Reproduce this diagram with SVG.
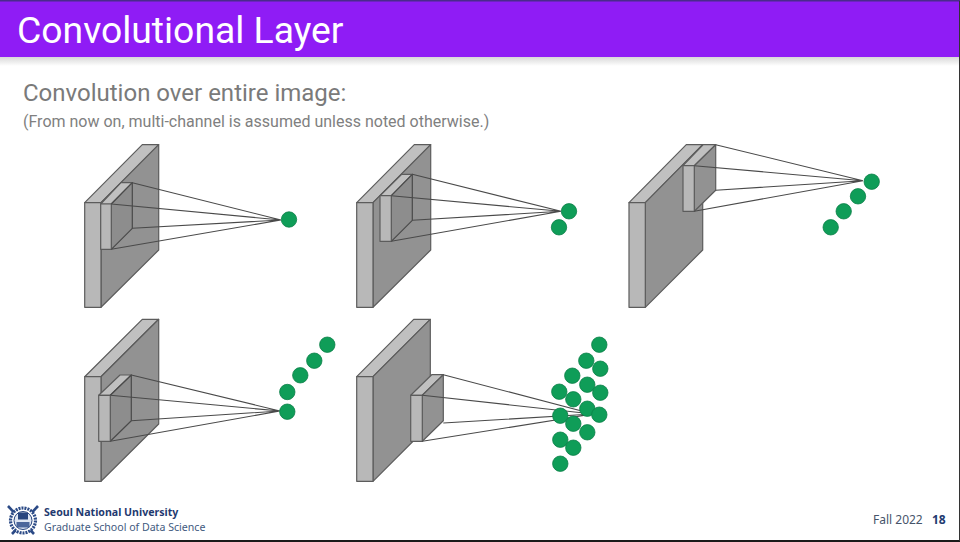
<svg xmlns="http://www.w3.org/2000/svg" width="960" height="542" viewBox="0 0 960 542">
<defs>
<linearGradient id="sh" x1="0" y1="0" x2="0" y2="1"><stop offset="0" stop-color="#d8d8d8"/><stop offset="1" stop-color="#ffffff"/></linearGradient>
<style>
.f{fill:#b8b8b8;stroke:#5c5c5c;stroke-width:1.2;stroke-linejoin:round}
.t{fill:#c0c0c0;stroke:#5c5c5c;stroke-width:1.2;stroke-linejoin:round}
.s{fill:#929292;stroke:#5c5c5c;stroke-width:1.2;stroke-linejoin:round}
.sm{fill:#8c8c8c;fill-opacity:.7;stroke:#4a4a4a;stroke-width:1.2;stroke-linejoin:round}
.d{fill:#0f9d58;stroke:#0b7f47;stroke-width:.8}
.l{stroke:#4a4a4a;stroke-width:1.1;fill:none}
.r{font-family:Roboto,"Liberation Sans",sans-serif}
.n{font-family:"Noto Sans","Liberation Sans",sans-serif}
</style>
</defs>
<rect width="960" height="542" fill="#ffffff"/>
<g id="header">
<rect x="0" y="57" width="960" height="9" fill="url(#sh)"/>
<rect x="0" y="0" width="960" height="57" fill="#8f1cf5"/>
<rect x="0" y="0" width="960" height="1.5" fill="#4a2a8c"/>
<text x="17" y="43" class="r" font-size="37.3" fill="#ffffff">Convolutional Layer</text>
</g>
<g id="subtitle">
<text x="23" y="101" class="r" font-size="24" fill="#7a7a7a">Convolution over entire image:</text>
<text x="23" y="127" class="r" font-size="16" fill="#808080">(From now on, multi-channel is assumed unless noted otherwise.)</text>
</g>
<g id="block1">
<polygon class="t" points="84.7,202.7 142.3,144.7 158.7,144.7 101,202.7"/>
<polygon class="s" points="101,202.7 158.7,144.7 158.7,250 101,307.3"/>
<rect class="f" x="84.7" y="202.7" width="16.3" height="104.6"/>
<polygon class="t" points="100.7,204 121,182.7 132.3,182.7 111.3,204"/>
<polygon class="sm" points="111.3,204 132.3,182.7 132.3,228.3 111.3,249.3"/>
<rect class="f" x="100.7" y="204" width="10.6" height="45.3"/>
</g>
<g id="block2">
<polygon class="t" points="356.7,202.7 414.3,144.7 430.7,144.7 373,202.7"/>
<polygon class="s" points="373,202.7 430.7,144.7 430.7,250 373,307.3"/>
<rect class="f" x="356.7" y="202.7" width="16.3" height="104.6"/>
<polygon class="t" points="380,195.7 401.7,174.3 412.3,174.3 391.3,195.7"/>
<polygon class="sm" points="391.3,195.7 412.3,174.3 412.3,220.3 391.3,241.3"/>
<rect class="f" x="380" y="195.7" width="11.3" height="45.6"/>
</g>
<g id="block3">
<polygon class="t" points="629,202.7 686.3,144.7 702.7,144.7 645.3,202.7"/>
<polygon class="s" points="645.3,202.7 702.7,144.7 702.7,250 645.3,307.3"/>
<rect class="f" x="629" y="202.7" width="16.3" height="104.6"/>
<polygon class="t" points="683,165.7 703.3,144.7 715.7,144.7 694.3,165.7"/>
<polygon class="s" points="694.3,165.7 715.7,144.7 715.7,190.3 694.3,211.3"/>
<rect class="f" x="683" y="165.7" width="11.3" height="45.6"/>
</g>
<g id="block4">
<polygon class="t" points="84.7,376.7 142.3,319.3 158.7,319.3 101,376.7"/>
<polygon class="s" points="101,376.7 158.7,319.3 158.7,424 101,481.3"/>
<rect class="f" x="84.7" y="376.7" width="16.3" height="104.6"/>
<polygon class="t" points="98.7,395.3 120,375 131.3,375 110.3,395.3"/>
<polygon class="sm" points="110.3,395.3 131.3,375 131.3,420.7 110.3,441.3"/>
<rect class="f" x="98.7" y="395.3" width="11.6" height="46"/>
</g>
<g id="block5">
<polygon class="t" points="356.7,376.7 413.7,319.3 430.3,319.3 373,376.7"/>
<polygon class="s" points="373,376.7 430.3,319.3 430.3,424 373,481.3"/>
<rect class="f" x="356.7" y="376.7" width="16.3" height="104.6"/>
<polygon class="t" points="410.7,395.3 431.7,374.7 443.3,374.7 422.3,395.3"/>
<polygon class="s" points="422.3,395.3 443.3,374.7 443.3,420.7 422.3,441.3"/>
<rect class="f" x="410.7" y="395.3" width="11.6" height="46"/>
</g>
<g id="connectors" class="l">
<path d="M132.3,182.7L281,220M111.3,204L281,220M132.3,228.3L281,220M111.3,249.3L281,220"/>
<path d="M412.3,174.3L561,211.3M391.3,195.7L561,211.3M412.3,220.3L561,211.3M391.3,241.3L561,211.3"/>
<path d="M715.7,144.7L863,180.7M694.3,165.7L863,180.7M715.7,190.3L863,180.7M694.3,211.3L863,180.7"/>
<path d="M131.3,375L280,411M110.3,395.3L280,411M131.3,420.7L280,411M110.3,441.3L280,411"/>
<path d="M443.3,374.7L593,414M422.3,395.3L593,414M443.3,423L593,414M422.3,441.3L593,414"/>
</g>
<g id="dots1"><circle class="d" cx="289" cy="219.5" r="7.7"/></g>
<g id="dots2"><circle class="d" cx="569" cy="211.3" r="7.7"/><circle class="d" cx="559" cy="227.3" r="7.7"/></g>
<g id="dots3"><circle class="d" cx="871.7" cy="181.7" r="7.7"/><circle class="d" cx="858" cy="196.3" r="7.7"/><circle class="d" cx="843.7" cy="211.3" r="7.7"/><circle class="d" cx="830.7" cy="227.3" r="7.7"/></g>
<g id="dots4"><circle class="d" cx="327.3" cy="344.7" r="7.7"/><circle class="d" cx="314.3" cy="360.7" r="7.7"/><circle class="d" cx="300.3" cy="375.3" r="7.7"/><circle class="d" cx="287.3" cy="392" r="7.7"/><circle class="d" cx="287.3" cy="411.7" r="7.7"/></g>
<g id="dots5">
<circle class="d" cx="599.3" cy="344.7" r="7.7"/><circle class="d" cx="586.3" cy="360.7" r="7.7"/><circle class="d" cx="600.3" cy="368.7" r="7.7"/><circle class="d" cx="572.3" cy="375.7" r="7.7"/><circle class="d" cx="587.3" cy="384.7" r="7.7"/><circle class="d" cx="559.3" cy="391.7" r="7.7"/><circle class="d" cx="573.3" cy="399.3" r="7.7"/><circle class="d" cx="600.3" cy="392.7" r="7.7"/><circle class="d" cx="587.3" cy="408.7" r="7.7"/><circle class="d" cx="560.3" cy="415.7" r="7.7"/><circle class="d" cx="599.3" cy="414.7" r="7.7"/><circle class="d" cx="573.3" cy="423.7" r="7.7"/><circle class="d" cx="587.3" cy="432.3" r="7.7"/><circle class="d" cx="560.3" cy="439.7" r="7.7"/><circle class="d" cx="573.3" cy="447.7" r="7.7"/><circle class="d" cx="560.3" cy="463.7" r="7.7"/>
</g>
<g id="logo">
<path d="M8,506L34,534M38,506L12,534" stroke="#2b4a86" stroke-width="2.6"/>
<circle cx="23" cy="520.5" r="12.5" fill="#ffffff" stroke="#2b4a86" stroke-width="3.2" stroke-dasharray="2 1"/>
<circle cx="23" cy="520.5" r="9" fill="#dfe6f2" stroke="#27457f" stroke-width="1"/>
<rect x="18" y="512.5" width="10" height="7" fill="#27457f"/>
<rect x="16.5" y="522" width="13" height="5.5" fill="#4b669b"/>
</g>
<g id="footer">
<text x="44" y="516" class="n" font-size="10.6" font-weight="700" fill="#1f3a70">Seoul National University</text>
<text x="44" y="531" class="n" font-size="10.6" fill="#3f5a80">Graduate School of Data Science</text>
<text x="873" y="524" class="n" font-size="12" fill="#46546a">Fall 2022</text>
<text x="932" y="524" class="n" font-size="12" font-weight="700" fill="#1f3a70">18</text>
</g>
<g id="frame">
<rect x="0" y="540" width="960" height="2" fill="#1a1a1a"/>
<rect x="959" y="1" width="1" height="540" fill="#333333"/>
</g>
</svg>
